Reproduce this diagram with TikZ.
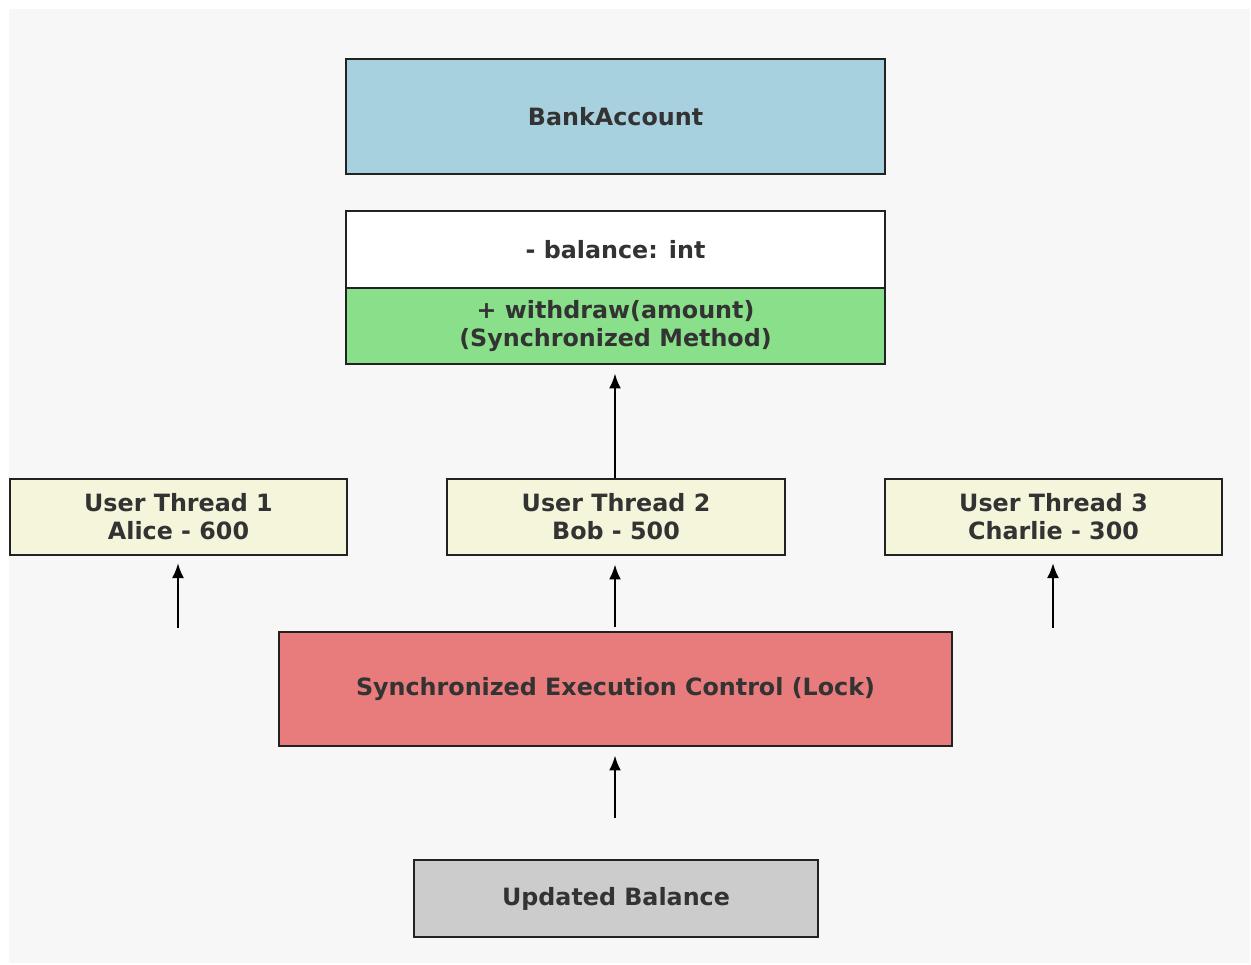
\documentclass[tikz,border=0pt]{standalone}
\usepackage{fontspec}
\setmainfont{DejaVu Sans}
\usetikzlibrary{arrows.meta}
\definecolor{bgc}{HTML}{F7F7F7}
\definecolor{edge}{HTML}{222222}
\definecolor{txt}{HTML}{333333}
\definecolor{cblue}{HTML}{A8D1DF}
\definecolor{cgreen}{HTML}{8AE08A}
\definecolor{cbeige}{HTML}{F5F5DC}
\definecolor{cred}{HTML}{E87B7B}
\definecolor{cgray}{HTML}{CCCCCC}
\tikzset{
  box/.style={draw=edge, line width=2.8pt, rectangle, inner sep=0pt, align=center,
    text=txt, font=\fontsize{23.8}{28}\selectfont\bfseries},
  conn/.style={line width=2.4pt, black, -{Latex[length=15pt,width=12pt]}}
}
\begin{document}
\begin{tikzpicture}[x=1pt,y=-1pt]
\useasboundingbox (0,0) rectangle (1251,965);
\fill[white] (0,0) rectangle (1251,965);
\fill[bgc] (9,9) rectangle (1250,963);
\node[box, fill=cblue, minimum width=539pt, minimum height=115pt] (bank) at (615.5,116.5) {BankAccount};
\node[box, fill=white, minimum width=539pt, minimum height=77pt] (bal) at (615.5,249.5) {- balance: int};
\node[box, fill=cgreen, minimum width=539pt, minimum height=76pt] (wd) at (615.5,326) {+ withdraw(amount)\\(Synchronized Method)};
\node[box, fill=cbeige, minimum width=337pt, minimum height=76pt] (t1) at (178.5,517) {User Thread 1\\Alice - 600};
\node[box, fill=cbeige, minimum width=338pt, minimum height=76pt] (t2) at (616,517) {User Thread 2\\Bob - 500};
\node[box, fill=cbeige, minimum width=337pt, minimum height=76pt] (t3) at (1053.5,517) {User Thread 3\\Charlie - 300};
\node[box, fill=cred, minimum width=673pt, minimum height=114pt] (lock) at (615.5,689) {Synchronized Execution Control (Lock)};
\node[box, fill=cgray, minimum width=404pt, minimum height=77pt] (upd) at (616,898.5) {Updated Balance};
\coordinate (s1) at (178,628);
\coordinate (e1) at (178,563);
\coordinate (s3) at (1053,628);
\coordinate (e3) at (1053,563);
\coordinate (su) at (615,818);
\draw[conn] (t2.north -| 615,0) -- ([yshift=-8pt]wd.south -| 615,0);
\draw[conn] (s1) -- (e1);
\draw[conn] (s3) -- (e3);
\draw[conn] ([yshift=4pt]lock.north -| 615,0) -- ([yshift=-8pt]t2.south -| 615,0);
\draw[conn] (su) -- ([yshift=-8pt]lock.south -| 615,0);
\end{tikzpicture}
\end{document}
